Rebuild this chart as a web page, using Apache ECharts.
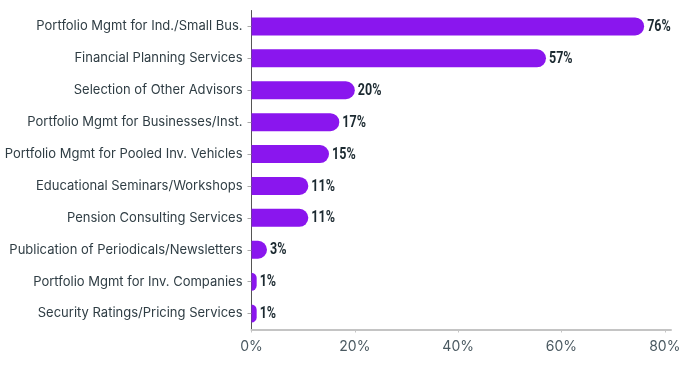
<!DOCTYPE html>
<html>
<head>
<meta charset="utf-8">
<script src="https://cdn.jsdelivr.net/npm/echarts@6/dist/echarts.min.js"></script>
<style>html,body{margin:0;padding:0;background:#fff}#c{width:693px;height:365px}</style>
</head>
<body>
<div id="c"></div>
<script>
var categories = [
  "Portfolio Mgmt for Ind./Small Bus.",
  "Financial Planning Services",
  "Selection of Other Advisors",
  "Portfolio Mgmt for Businesses/Inst.",
  "Portfolio Mgmt for Pooled Inv. Vehicles",
  "Educational Seminars/Workshops",
  "Pension Consulting Services",
  "Publication of Periodicals/Newsletters",
  "Portfolio Mgmt for Inv. Companies",
  "Security Ratings/Pricing Services"
];
var values = [76, 57, 20, 17, 15, 11, 11, 3, 1, 1];
var xTicks = [0, 20, 40, 60, 80];

var labelData = values.map(function (v, i) { return [v, i]; });

var chart = echarts.init(document.getElementById('c'), null, {renderer: 'canvas'});
chart.setOption({
  animation: false,
  grid: {left: 251.5, right: 22, top: 10.5, bottom: 35.5, containLabel: false},
  xAxis: {
    type: 'value', min: 0, max: 81.2,
    splitLine: {show: false},
    axisLine: {show: true, lineStyle: {color: '#c4c4c4', width: 2}},
    axisTick: {show: true, length: 3, lineStyle: {color: '#c4c4c4'}, customValues: xTicks},
    axisLabel: {customValues: xTicks, formatter: function (v) { return v + '%'; },
      color: '#4a5961', fontSize: 14, fontFamily: 'Inter', margin: 10}
  },
  yAxis: {
    type: 'category', data: categories, inverse: true,
    axisLine: {show: true, lineStyle: {color: '#555', width: 1}},
    axisTick: {show: true, alignWithLabel: true, length: 4, lineStyle: {color: '#aaa'}},
    axisLabel: {color: '#2f3d44', fontSize: 13, fontFamily: 'Inter', margin: 9}
  },
  series: [{
    type: 'bar', data: values, barWidth: 18,
    itemStyle: {color: '#8a16ee', borderRadius: [0, 9, 9, 0]}
  }, {
    type: 'custom', data: labelData, encode: {x: 0, y: 1}, silent: true,
    renderItem: function (params, api) {
      var pt = api.coord([api.value(0), api.value(1)]);
      return {
        type: 'text', x: pt[0] + 3, y: pt[1] + 0.5, scaleX: 0.76, scaleY: 1,
        style: {
          text: api.value(0) + '%', fill: '#1b2930',
          font: 'bold 16.5px Roboto', textAlign: 'left', textVerticalAlign: 'middle'
        }
      };
    }
  }]
});
</script>
</body>
</html>
